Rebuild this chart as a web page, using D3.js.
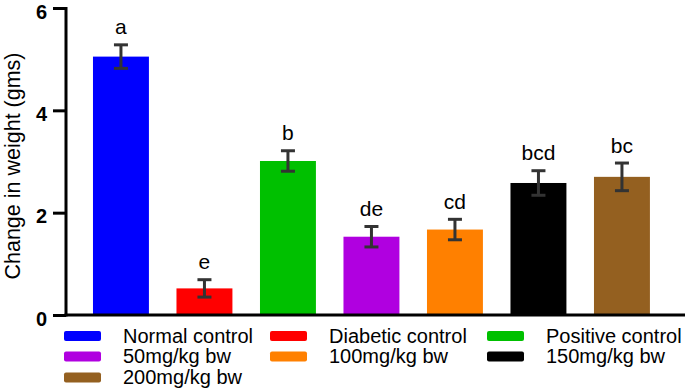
<!DOCTYPE html>
<html>
<head>
<meta charset="utf-8">
<script src="https://cdn.jsdelivr.net/npm/d3@7"></script>
<style>
  body { margin: 0; background: #fff; }
  svg text { font-family: "Liberation Sans", Arial, sans-serif; }
</style>
</head>
<body>
<svg id="chart" width="685" height="390"></svg>
<script>
// groups, means, error (sem) and significance letters
const groups = ["Normal control", "Diabetic control", "Positive control", "50mg/kg bw", "100mg/kg bw", "150mg/kg bw", "200mg/kg bw"];
const means = [5.05, 0.52, 3.01, 1.53, 1.67, 2.58, 2.70];
const errs = [0.23, 0.17, 0.20, 0.20, 0.20, 0.24, 0.27];
const letters = ["a", "e", "b", "de", "cd", "bcd", "bc"];
const colors = ["#0000ff", "#ff0000", "#00c000", "#b000e0", "#ff8000", "#000000", "#946020"];
const yTicks = [0, 2, 4, 6];

let svg = d3.select("#chart");

let x = d3.scaleBand().domain(groups).range([79.2, 663.7]).paddingInner(0.33).paddingOuter(0.165);
let y = d3.scaleLinear().domain([0, 6]).range([315, 8]);

// bars
svg.selectAll(".bar")
  .data(groups)
  .enter().append("rect")
    .attr("class", "bar")
    .attr("x", d => x(d))
    .attr("y", (d, i) => y(means[i]))
    .attr("width", x.bandwidth())
    .attr("height", (d, i) => y(0) - y(means[i]))
    .attr("fill", (d, i) => colors[i]);

// error bars
let cx = d => x(d) + x.bandwidth() / 2;
let eb = svg.selectAll(".err").data(groups).enter().append("g")
  .attr("class", "err")
  .attr("stroke", "#333")
  .attr("stroke-width", 3);
eb.append("line")
  .attr("x1", cx).attr("x2", cx)
  .attr("y1", (d, i) => y(means[i] + errs[i])).attr("y2", (d, i) => y(means[i] - errs[i]));
eb.append("line")
  .attr("x1", d => cx(d) - 7).attr("x2", d => cx(d) + 7)
  .attr("y1", (d, i) => y(means[i] + errs[i])).attr("y2", (d, i) => y(means[i] + errs[i]));
eb.append("line")
  .attr("x1", d => cx(d) - 7).attr("x2", d => cx(d) + 7)
  .attr("y1", (d, i) => y(means[i] - errs[i])).attr("y2", (d, i) => y(means[i] - errs[i]));

// letters
svg.selectAll(".sig").data(groups).enter().append("text")
  .attr("class", "sig")
  .attr("x", cx)
  .attr("y", (d, i) => y(means[i] + errs[i]) - 10.5)
  .attr("text-anchor", "middle")
  .attr("font-size", 21)
  .attr("fill", "#000")
  .text((d, i) => letters[i]);

// y axis
let yAxis = svg.append("g")
  .attr("transform", "translate(66,0)")
  .call(d3.axisLeft(y).tickValues(yTicks).tickFormat(d3.format("d")).tickSize(13).tickSizeOuter(0).tickPadding(6));
yAxis.select(".domain").attr("stroke-width", 3).attr("d", "M0," + (y(6) - 1) + "V" + (y(0) + 1.5));
yAxis.selectAll(".tick line").attr("stroke-width", 3);
yAxis.selectAll(".tick text")
  .attr("font-size", 20)
  .attr("dy", "0.51em")
  .attr("font-weight", "bold")
  .attr("font-family", "Liberation Sans, Arial, sans-serif")
  .attr("fill", "#000");

// x baseline
svg.append("line")
  .attr("x1", 64.5).attr("x2", 685)
  .attr("y1", y(0)).attr("y2", y(0))
  .attr("stroke", "#000").attr("stroke-width", 3);

// y title
svg.append("text")
  .attr("transform", "translate(19.5,166) rotate(-90)")
  .attr("text-anchor", "middle")
  .attr("font-size", 21.5)
  .attr("fill", "#000")
  .text("Change in weight (gms)");

// legend
const legCols = [64, 270, 487];
const legRows = [336, 356.5, 377.5];
let leg = svg.selectAll(".leg").data(groups).enter().append("g")
  .attr("class", "leg")
  .attr("transform", (d, i) => "translate(" + legCols[i % 3] + "," + legRows[Math.floor(i / 3)] + ")");
leg.append("rect")
  .attr("x", 0).attr("y", -5)
  .attr("width", 37).attr("height", 10)
  .attr("rx", 2)
  .attr("fill", (d, i) => colors[i]);
leg.append("text")
  .attr("x", 59).attr("y", 6.8)
  .attr("font-size", 20)
  .attr("fill", "#000")
  .text(d => d);
</script>
</body>
</html>
